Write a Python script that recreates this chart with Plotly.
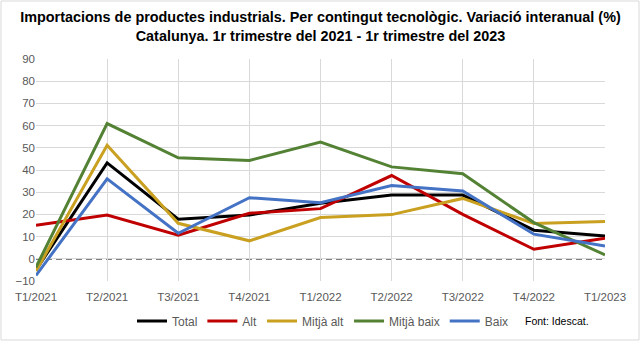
import plotly.graph_objects as go

categories = ["T1/2021", "T2/2021", "T3/2021", "T4/2021", "T1/2022",
              "T2/2022", "T3/2022", "T4/2022", "T1/2023"]
total = [-5.0, 43.2, 17.8, 19.7, 25.0, 28.7, 28.7, 12.9, 10.3]
alt = [15.1, 19.7, 10.6, 20.5, 22.6, 37.5, 20.0, 4.3, 9.3]
mitja_alt = [-5.5, 51.1, 16.0, 8.1, 18.6, 19.9, 27.2, 15.9, 16.8]
mitja_baix = [-3.8, 60.9, 45.5, 44.3, 52.6, 41.4, 38.3, 16.3, 1.8]
baix = [-7.5, 36.0, 11.5, 27.5, 25.3, 33.0, 30.5, 11.1, 5.8]

series = [
    ("Total", total, "#000000"),
    ("Alt", alt, "#C00000"),
    ("Mitjà alt", mitja_alt, "#C9A020"),
    ("Mitjà baix", mitja_baix, "#548235"),
    ("Baix", baix, "#4472C4"),
]

FONT = "Liberation Sans Narrow, Arial Narrow, Liberation Sans, Arial, sans-serif"

fig = go.Figure()
for name, vals, col in series:
    fig.add_trace(go.Scatter(x=categories, y=vals, name=name, mode="lines",
                             line=dict(color=col, width=3)))

W, H = 641, 347
L, R, T, B = 36, 605, 59, 281
fig.update_layout(
    width=W, height=H,
    margin=dict(l=L, r=W - R, t=T, b=H - B, autoexpand=False),
    paper_bgcolor="white", plot_bgcolor="white",
    font=dict(family=FONT, size=12, color="#595959"),
    title=dict(
        text="Importacions de productes industrials. Per contingut tecnològic. Variació interanual (%)<br>Catalunya. 1r trimestre del 2021 - 1r trimestre del 2023",
        x=0.5, xanchor="center", xref="container", y=1 - 22 / H, yanchor="middle",
        yref="container",
        font=dict(family=FONT, size=14.4, color="#000000", weight="bold"),
    ),
    showlegend=True,
    legend=dict(orientation="h", x=(323) / W, xanchor="center",
                xref="container", yref="container",
                y=1 - 321 / H, yanchor="middle",
                font=dict(family=FONT, size=12, color="#595959"),
                itemwidth=30, tracegroupgap=0, bgcolor="rgba(0,0,0,0)"),
    xaxis=dict(type="category", range=[0, 8], showgrid=True, gridcolor="#D9D9D9",
               gridwidth=1, ticks="", zeroline=False, showline=False,
               ticklabelstandoff=7,
               tickfont=dict(family=FONT, size=11.5, color="#595959")),
    yaxis=dict(range=[-10, 90], dtick=10, showgrid=True, gridcolor="#D9D9D9",
               gridwidth=1, zeroline=False, ticks="", showline=False,
               tickfont=dict(family=FONT, size=11.5, color="#595959")),
)

# dashed zero line
fig.add_shape(type="line", xref="paper", yref="y", x0=0, x1=1, y0=0, y1=0,
              line=dict(color="#000000", width=1.2, dash="6px,4px"), layer="between")
# outer chart border
pw, ph = R - L, B - T
fig.add_shape(type="rect", xref="paper", yref="paper",
              x0=(1 - L) / pw, x1=(639 - L) / pw,
              y0=(B - 340) / ph, y1=(B - 1) / ph,
              line=dict(color="#D9D9D9", width=1), fillcolor="rgba(0,0,0,0)")
fig.add_annotation(text="Font: Idescat.", xref="paper", yref="paper",
                   x=(557 - L) / pw, y=(B - 321) / ph, showarrow=False,
                   xanchor="center", yanchor="middle",
                   font=dict(family=FONT, size=10.5, color="#000000"))

fig.write_html("out.html")
